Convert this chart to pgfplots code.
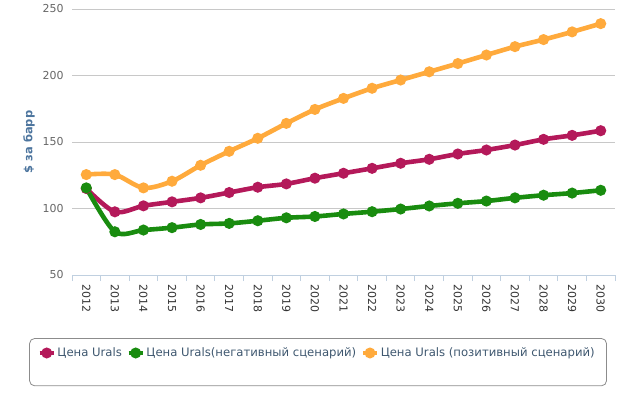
\documentclass[border=0pt]{standalone}
\usepackage{pgfplots}
\pgfplotsset{compat=1.18}
\usepackage{pgfplotstable}
\usepackage{fontspec}
\setmainfont{DejaVu Sans}
\definecolor{cred}{RGB}{180,25,90}
\definecolor{cgreen}{RGB}{25,140,15}
\definecolor{corange}{RGB}{255,170,60}
\definecolor{ctick}{HTML}{666666}
\definecolor{cxtick}{HTML}{333333}
\definecolor{ctitle}{HTML}{4D759E}
\definecolor{clegend}{HTML}{3E576F}
\definecolor{caxis}{HTML}{C0D0E0}
\definecolor{cgrid}{HTML}{C8C8C8}
\pgfplotstableread{
x red green orange
0 115 115.5 125.5
1 97.5 82.5 125.5
2 102 83.8 115.5
3 105 85.6 120.5
4 108 88 132.5
5 112 88.8 143
6 116 90.8 152.8
7 118.5 93 164
8 122.8 94 174.5
9 126.5 95.9 182.8
10 130.2 97.6 190.4
11 134 99.6 196.6
12 137 101.9 202.8
13 141 103.9 209
14 144 105.6 215.4
15 147.7 108 221.7
16 152 110 227
17 155 111.6 232.8
18 158.5 113.7 239
}\data
\begin{document}
\begin{tikzpicture}
\begin{axis}[
  scale only axis,
  width=543bp, height=266bp,
  xmin=-0.5, xmax=18.5, ymin=50, ymax=250,
  axis x line*=bottom, axis y line*=left,
  x axis line style={draw=caxis, line width=1bp},
  y axis line style={draw=none},
  xtick={0,...,18},
  xticklabels={2012,2013,2014,2015,2016,2017,2018,2019,2020,2021,2022,2023,2024,2025,2026,2027,2028,2029,2030},
  minor xtick={-0.5,0.5,...,18.5},
  major x tick style={draw=none},
  minor x tick style={draw=caxis, line width=1bp},
  minor tick length=6bp,
  tick align=outside,
  ytick={50,100,...,250},
  major y tick style={draw=none},
  ymajorgrids,
  grid style={draw=cgrid, line width=0.8bp},
  /pgf/number format/assume math mode=true,
  tick label style={font=\fontsize{11}{13}\selectfont},
  yticklabel style={anchor=east, inner sep=0pt, xshift=-4bp, text=ctick},
  xticklabel style={yshift=-5bp, rotate=-90, anchor=west, inner sep=0pt, text=cxtick},
  ylabel={\$ за барр},
  ylabel style={font=\fontsize{11.5}{13}\selectfont\bfseries, text=ctitle, at={(axis description cs:-0.0792,0.5)}, anchor=center},
  legend columns=-1,
  legend style={draw=none, fill=none, at={(axis description cs:-0.0639,-0.2932)}, anchor=west, inner sep=0pt,
    font=\fontsize{11.7}{14}\selectfont, text=clegend,
    nodes={inner sep=0pt},
    /tikz/every odd column/.append style={column sep=1.5bp},
    /tikz/every even column/.append style={column sep=4.5bp}},
  legend image code/.code={\draw[#1, line width=4.5bp, mark repeat=2, mark phase=2] plot coordinates {(0bp,0bp) (7bp,0bp) (14bp,0bp)};},
  every axis plot/.append style={line width=4.6bp, smooth, tension=0.5, mark=*, mark size=3.1bp},
]
\coordinate (sw) at (rel axis cs:0,0);
\coordinate (ne) at (rel axis cs:1,1);
\addplot[cred, mark options={fill=cred, draw=none}] table[x=x, y=red] {\data};
\addlegendentry{Цена Urals}
\addplot[cgreen, mark options={fill=cgreen, draw=none}] table[x=x, y=green] {\data};
\addlegendentry{Цена Urals(негативный сценарий)}
\addplot[corange, mark options={fill=corange, draw=none}] table[x=x, y=orange] {\data};
\addlegendentry{Цена Urals (позитивный сценарий)}
\end{axis}
\draw[draw=black!45, line width=0.8bp, rounded corners=5bp] ([shift={(-42.4bp,-63.5bp)}]sw) rectangle ([shift={(534.5bp,-110.8bp)}]sw);
\path ([shift={(-72bp,-122bp)}]sw) rectangle ([shift={(8bp,9bp)}]ne);
\end{tikzpicture}
\end{document}
